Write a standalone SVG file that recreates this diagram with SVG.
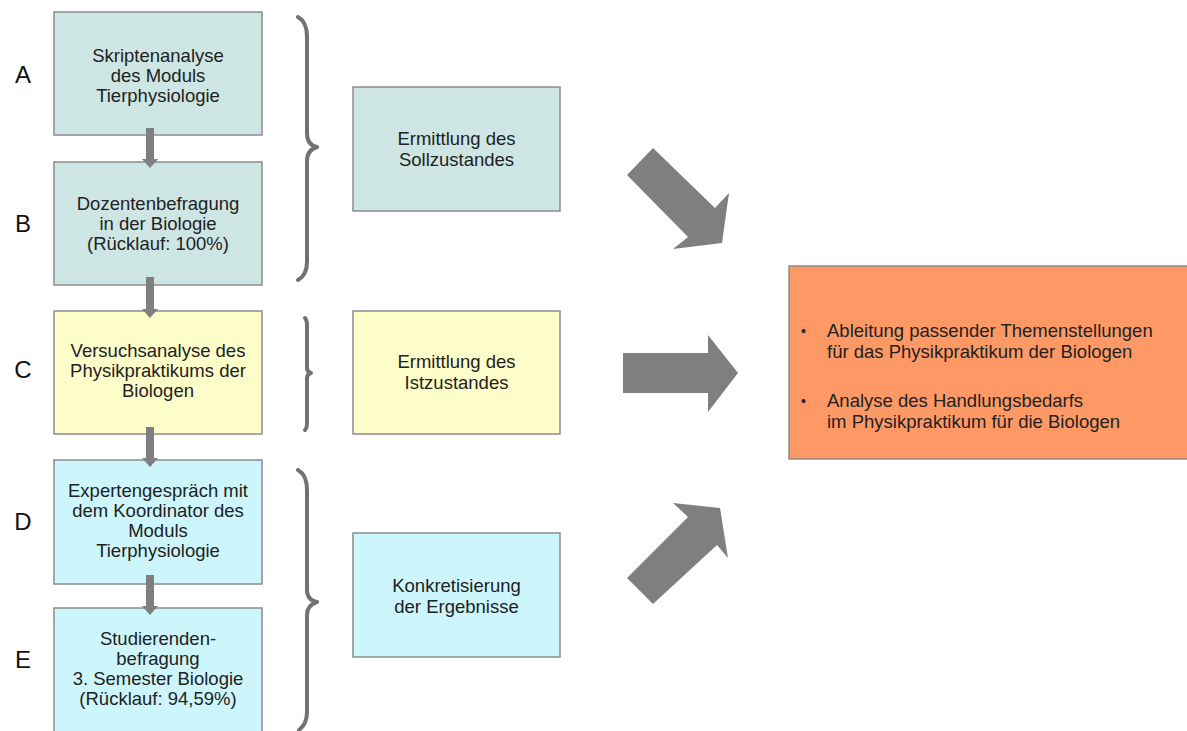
<svg xmlns="http://www.w3.org/2000/svg" width="1187" height="731" viewBox="0 0 1187 731">
<style>
  text { font-family: "Liberation Sans", Arial, sans-serif; fill: #222; }
  .t { font-size: 18.5px; text-anchor: middle; }
  .lbl { font-size: 24px; text-anchor: middle; fill: #111; }
  .bl { font-size: 18.5px; }
  .box { stroke: #8c8c8c; stroke-width: 1.5; }
  .teal { fill: #cde6e3; }
  .yel { fill: #fdfdc9; }
  .cyan { fill: #ccf6fb; }
  .org { fill: #fe9966; }
  .brace { fill: none; stroke: #727272; stroke-width: 4; stroke-linecap: round; stroke-linejoin: round; }
  .arr { fill: #7f7f7f; }
</style>
<rect width="1187" height="731" fill="#ffffff"/>

<g id="labels">
  <text class="lbl" x="23" y="83">A</text>
  <text class="lbl" x="23" y="232">B</text>
  <text class="lbl" x="23" y="378">C</text>
  <text class="lbl" x="23" y="530">D</text>
  <text class="lbl" x="23" y="668">E</text>
</g>

<g id="nodeA">
  <rect class="box teal" x="54" y="12" width="208" height="123"/>
  <text class="t" x="158" y="62">Skriptenanalyse</text>
  <text class="t" x="158" y="82">des Moduls</text>
  <text class="t" x="158" y="102">Tierphysiologie</text>
</g>
<g id="nodeB">
  <rect class="box teal" x="54" y="162" width="208" height="123"/>
  <text class="t" x="158" y="210">Dozentenbefragung</text>
  <text class="t" x="158" y="230">in der Biologie</text>
  <text class="t" x="158" y="250">(Rücklauf: 100%)</text>
</g>
<g id="nodeC">
  <rect class="box yel" x="54" y="311" width="208" height="123"/>
  <text class="t" x="158" y="357">Versuchsanalyse des</text>
  <text class="t" x="158" y="377">Physikpraktikums der</text>
  <text class="t" x="158" y="397">Biologen</text>
</g>
<g id="nodeD">
  <rect class="box cyan" x="54" y="460" width="208" height="124"/>
  <text class="t" x="158" y="497">Expertengespräch mit</text>
  <text class="t" x="158" y="517">dem Koordinator des</text>
  <text class="t" x="158" y="537">Moduls</text>
  <text class="t" x="158" y="557">Tierphysiologie</text>
</g>
<g id="nodeE">
  <rect class="box cyan" x="54" y="608" width="208" height="130"/>
  <text class="t" x="158" y="645">Studierenden-</text>
  <text class="t" x="158" y="665">befragung</text>
  <text class="t" x="158" y="685">3. Semester Biologie</text>
  <text class="t" x="158" y="705">(Rücklauf: 94,59%)</text>
</g>

<g id="nodeSoll">
  <rect class="box teal" x="353" y="87" width="207" height="124"/>
  <text class="t" x="456.5" y="145">Ermittlung des</text>
  <text class="t" x="456.5" y="166">Sollzustandes</text>
</g>
<g id="nodeIst">
  <rect class="box yel" x="353" y="311" width="207" height="123"/>
  <text class="t" x="456.5" y="368">Ermittlung des</text>
  <text class="t" x="456.5" y="389">Istzustandes</text>
</g>
<g id="nodeKonkret">
  <rect class="box cyan" x="353" y="533" width="207" height="124"/>
  <text class="t" x="456.5" y="592">Konkretisierung</text>
  <text class="t" x="456.5" y="613">der Ergebnisse</text>
</g>

<g id="nodeResult">
  <rect class="box org" x="789" y="266" width="400" height="193"/>
  <text class="bl" x="801" y="336" style="font-size:14px">•</text>
  <text class="bl" x="827" y="337">Ableitung passender Themenstellungen</text>
  <text class="bl" x="827" y="358">für das Physikpraktikum der Biologen</text>
  <text class="bl" x="801" y="406" style="font-size:14px">•</text>
  <text class="bl" x="827" y="407">Analyse des Handlungsbedarfs</text>
  <text class="bl" x="827" y="428">im Physikpraktikum für die Biologen</text>
</g>

<g id="braces">
  <path class="brace" d="M298,17 Q307,22 307,37 L307,133 Q307,145 317,147 Q307,150 307,161 L307,262 Q307,275 298,280"/>
  <path class="brace" d="M305,318 Q307,320 307,326 L307,368 Q307,372 311,373 Q307,374 307,378 L307,424 Q307,428 305,430"/>
  <path class="brace" d="M298,470 Q307,475 307,490 L307,590 Q307,600 317,602 Q307,605 307,615 L307,712 Q307,724 299,730"/>
</g>

<g id="connectors">
  <polygon class="arr" points="146,128 154,128 154,159 158,159 150,168 142,159 146,159"/>
  <polygon class="arr" points="146,277 154,277 154,309 158,309 150,318 142,309 146,309"/>
  <polygon class="arr" points="146,427 154,427 154,458 158,458 150,467 142,458 146,458"/>
  <polygon class="arr" points="146,575 154,575 154,606 158,606 150,615 142,606 146,606"/>
  <polygon class="arr" points="653,148 715,208 729,193 722,243 673,249 688,237 627,175"/>
  <polygon class="arr" points="623,353 708,353 708,335 738,373 708,412 708,393 623,393"/>
  <polygon class="arr" points="627,578 688,517 673,503 720,508 728,558 717,545 653,604"/>
</g>
</svg>
